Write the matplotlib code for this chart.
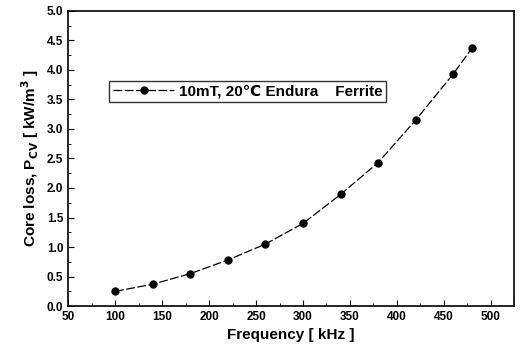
import numpy as np
import matplotlib.pyplot as plt
from matplotlib.ticker import MultipleLocator

plt.rcParams['font.family'] = ['Liberation Sans', 'DejaVu Sans']
plt.rcParams['font.weight'] = 'bold'
plt.rcParams['mathtext.default'] = 'bf'

freq = [100, 140, 180, 220, 260, 300, 340, 380, 420, 460, 480]
loss = [0.25, 0.37, 0.55, 0.78, 1.05, 1.40, 1.89, 2.43, 3.15, 3.93, 4.37]

fig = plt.figure(figsize=(5.21, 3.51), dpi=100)
ax = fig.add_axes([0.131, 0.128, 0.856, 0.841])

ax.plot(freq, loss, color='black', lw=0.9, dashes=(7, 2), marker='o', ms=5,
        label='10mT, 20\u2103 Endura    Ferrite')

ax.set_xlim(50, 525)
ax.set_ylim(0, 5.0)
ax.xaxis.set_major_locator(MultipleLocator(50))
ax.xaxis.set_minor_locator(MultipleLocator(25))
ax.yaxis.set_major_locator(MultipleLocator(0.5))
ax.yaxis.set_minor_locator(MultipleLocator(0.25))
ax.set_yticklabels(['%.1f' % v for v in ax.get_yticks()])
ax.tick_params(which='both', direction='in', labelsize=8.5)
ax.tick_params(which='major', length=4)
ax.tick_params(which='minor', length=2)
for s in ax.spines.values():
    s.set_linewidth(1.2)

ax.set_xlabel('Frequency [ kHz ]', fontsize=11, fontweight='bold')
ax.set_ylabel('Core loss, P$_{CV}$ [ kW/m$^3$ ]', fontsize=11, fontweight='bold')

leg = ax.legend(loc='upper left', bbox_to_anchor=(0.075, 0.79), fontsize=11,
                frameon=True, fancybox=False, edgecolor='black', handlelength=4,
                borderpad=0.25, handletextpad=0.3)
leg.get_frame().set_linewidth(1.0)

fig.savefig('out.png', dpi=100)
